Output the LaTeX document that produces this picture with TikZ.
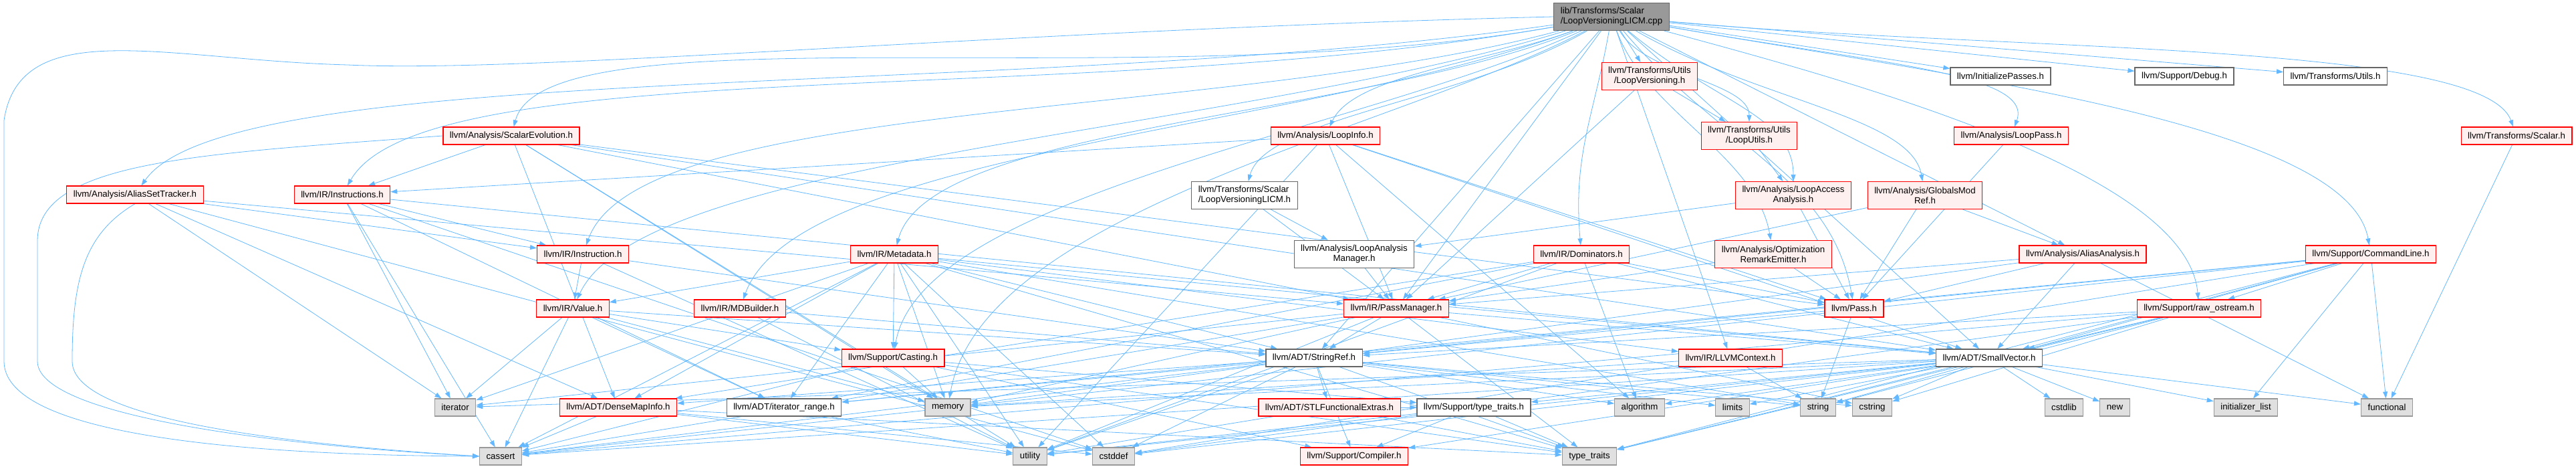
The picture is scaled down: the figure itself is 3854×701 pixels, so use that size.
\documentclass[tikz,border=0pt]{standalone}
\usepackage{fontspec}
\setmainfont{Liberation Sans}
\usetikzlibrary{arrows.meta,backgrounds}
\definecolor{edgeblue}{HTML}{63B8FF}
\definecolor{redfill}{HTML}{FFF0F0}
\definecolor{sysfill}{HTML}{E0E0E0}
\definecolor{sysdraw}{HTML}{999999}
\definecolor{plaindraw}{HTML}{666666}
\definecolor{rootfill}{HTML}{999999}
\begin{document}
\begin{tikzpicture}[x=1pt, y=-1pt,
  hdr/.style={draw, line width=1.2pt, inner xsep=10pt, inner ysep=2pt, minimum height=26pt,
    font=\fontsize{13.3}{15}\selectfont, align=center},
  redhdr/.style={hdr, draw=red, fill=redfill},
  syshdr/.style={hdr, draw=sysdraw, fill=sysfill},
  plainhdr/.style={hdr, draw=plaindraw, fill=white},
  roothdr/.style={hdr, draw=plaindraw, fill=rootfill, align=left},
  twoline/.style={minimum height=41pt},
  incl/.style={draw=edgeblue, line width=0.8pt, -{Triangle[length=10pt,width=7pt]}}]
\useasboundingbox (0,0) rectangle (3854,701);

\node[roothdr, twoline] (root) at (2411,25) {lib/Transforms/Scalar\\/LoopVersioningLICM.cpp};
% row 1
\node[redhdr, twoline] (lver) at (2468,114) {llvm/Transforms/Utils\\/LoopVersioning.h};
\node[plainhdr] (initp) at (2993,114) {llvm/InitializePasses.h};
\node[plainhdr] (dbg) at (3268,114) {llvm/Support/Debug.h};
\node[plainhdr] (tutils) at (3494,114) {llvm/Transforms/Utils.h};
% row 2
\node[redhdr] (scev) at (765,203) {llvm/Analysis/ScalarEvolution.h};
\node[redhdr] (linfo) at (1983,203) {llvm/Analysis/LoopInfo.h};
\node[redhdr, twoline] (lutils) at (2617,203) {llvm/Transforms/Utils\\/LoopUtils.h};
\node[redhdr] (lpass) at (3009,203) {llvm/Analysis/LoopPass.h};
\node[redhdr] (tscalar) at (3765,203) {llvm/Transforms/Scalar.h};
% row 3
\node[redhdr] (ast) at (202,291) {llvm/Analysis/AliasSetTracker.h};
\node[redhdr] (instrs) at (512,291) {llvm/IR/Instructions.h};
\node[plainhdr, twoline, align=left] (licmh) at (1862,292) {llvm/Transforms/Scalar\\/LoopVersioningLICM.h};
\node[redhdr, twoline] (laa) at (2683,292) {llvm/Analysis/LoopAccess\\Analysis.h};
\node[redhdr, twoline] (gmr) at (2880,292) {llvm/Analysis/GlobalsMod\\Ref.h};
% row 4
\node[redhdr] (instr) at (872,380) {llvm/IR/Instruction.h};
\node[redhdr] (meta) at (1338,380) {llvm/IR/Metadata.h};
\node[plainhdr, twoline] (lam) at (2026,380) {llvm/Analysis/LoopAnalysis\\Manager.h};
\node[redhdr] (dom) at (2366,380) {llvm/IR/Dominators.h};
\node[redhdr, twoline] (ore) at (2653,380) {llvm/Analysis/Optimization\\RemarkEmitter.h};
\node[redhdr] (aa) at (3116,380) {llvm/Analysis/AliasAnalysis.h};
\node[redhdr] (cl) at (3547,380) {llvm/Support/CommandLine.h};
% row 5
\node[redhdr] (value) at (857,461) {llvm/IR/Value.h};
\node[redhdr] (mdb) at (1107,461) {llvm/IR/MDBuilder.h};
\node[redhdr] (pm) at (2089,461) {llvm/IR/PassManager.h};
\node[redhdr] (pass) at (2774,461) {llvm/Pass.h};
\node[redhdr] (ros) at (3290,461) {llvm/Support/raw\_ostream.h};
% row 6
\node[redhdr] (cast) at (1336,535) {llvm/Support/Casting.h};
\node[plainhdr] (sref) at (1966,535) {llvm/ADT/StringRef.h};
\node[redhdr] (ctx) at (2589,535) {llvm/IR/LLVMContext.h};
\node[plainhdr] (svec) at (2976,535) {llvm/ADT/SmallVector.h};
% row 7
\node[syshdr] (iter) at (681,609) {iterator};
\node[redhdr] (dmi) at (925,609) {llvm/ADT/DenseMapInfo.h};
\node[plainhdr] (irange) at (1173,609) {llvm/ADT/iterator\_range.h};
\node[syshdr] (mem) at (1418,609) {memory};
\node[redhdr] (stlfe) at (1989,609) {llvm/ADT/STLFunctionalExtras.h};
\node[plainhdr] (stt) at (2205,609) {llvm/Support/type\_traits.h};
\node[syshdr] (algo) at (2453,609) {algorithm};
\node[syshdr] (lim) at (2592,609) {limits};
\node[syshdr] (str) at (2720,609) {string};
\node[syshdr] (cstr) at (2801,609) {cstring};
\node[syshdr] (cstdl) at (3088,609) {cstdlib};
\node[syshdr] (new) at (3164,609) {new};
\node[syshdr] (initl) at (3360,609) {initializer\_list};
\node[syshdr] (func) at (3571,609) {functional};
% row 8
\node[syshdr] (cass) at (749,682) {cassert};
\node[syshdr] (util) at (1541,682) {utility};
\node[syshdr] (cstdd) at (1666,682) {cstddef};
\node[redhdr] (comp) at (2026,682) {llvm/Support/Compiler.h};
\node[syshdr] (tt) at (2378,682) {type\_traits};

\begin{scope}[on background layer]
% includes of the source file
\foreach \t in {lver,pm,ctx,sref,svec,initp,dbg,tutils,aa}
  \draw[incl] (root) -- (\t);
\foreach \t/\o/\i/\a/\b in {scev/190/75/700/200, ast/188/55/900/250, instrs/190/60/800/250,
    instr/195/70/600/250, value/197/65/600/250, mdb/200/70/500/250, meta/202/75/400/200,
    cast/205/80/400/250, mem/208/80/350/300, licmh/210/75/250/120, linfo/200/65/200/100,
    lutils/-60/90/100/80, laa/-40/90/200/120, gmr/-30/100/250/120, lpass/-10/70/400/100,
    ore/-70/100/150/150, dom/-100/95/150/150, pass/-50/100/250/200,
    tscalar/-5/110/600/150, cl/-10/100/500/200, ros/-15/95/400/200}
  \draw[incl] (root) .. controls +(\o:\a pt) and +(\i:\b pt) .. (\t);
\draw[incl] (root.west) .. controls (1500,45) and (800,110) .. (520,97)
  .. controls (250,90) and (30,20) .. (6,180) -- (6,540) .. controls (6,640) and (300,680) .. (cass.west);
% headers
\foreach \t in {pm,lutils} \draw[incl] (lver) -- (\t);
\draw[incl] (lutils) -- (laa);
\foreach \t in {lam,pass} \draw[incl] (laa) -- (\t);
\foreach \t in {aa,pm,pass} \draw[incl] (gmr) -- (\t);
\draw[incl] (lpass) -- (pass);
\draw[incl] (tscalar) -- (func);
\foreach \t in {instrs,pm,pass,svec,dmi,mem,util} \draw[incl] (scev) -- (\t);
\draw[incl] (scev.west) .. controls (300,230) and (56,240) .. (56,360) -- (56,540)
  .. controls (56,620) and (400,665) .. (cass.west);
\foreach \t in {dmi,instr,pm,cstdd,iter} \draw[incl] (ast) -- (\t);
\draw[incl] (ast.south) .. controls (125,350) and (108,420) .. (108,540)
  .. controls (108,630) and (450,665) .. (cass.west);
\foreach \t in {svec,irange,instr,cass,cstdd,iter} \draw[incl] (instrs) -- (\t);
\foreach \t in {lam,pm} \draw[incl] (licmh) -- (\t);
\draw[incl] (lam) -- (pm);
\foreach \t in {instrs,pm,pass,svec,algo,util} \draw[incl] (linfo) -- (\t);
\foreach \t in {value,sref,util} \draw[incl] (instr) -- (\t);
\foreach \t in {dmi,svec,sref,irange,ctx,value,cast,cass,cstdd,iter,mem,str,tt,util} \draw[incl] (meta) -- (\t);
\foreach \t in {sref,util} \draw[incl] (mdb) -- (\t);
\foreach \t in {dmi,svec,irange,pm,pass,algo,util} \draw[incl] (dom) -- (\t);
\foreach \t in {pm,pass} \draw[incl] (ore) -- (\t);
\foreach \t in {svec,pm,pass,func,mem} \draw[incl] (aa) -- (\t);
\foreach \t in {ros,svec,sref,irange,cass,cstdd,func,initl,str,tt} \draw[incl] (cl) -- (\t);
\foreach \t in {sref,irange,cast,cass,iter,mem} \draw[incl] (value) -- (\t);
\foreach \t in {svec,sref,cass,cstr,iter,mem,tt,util} \draw[incl] (pm) -- (\t);
\foreach \t in {sref,str} \draw[incl] (pass) -- (\t);
\foreach \t in {svec,sref,cass,cstdd,cstr,str,tt} \draw[incl] (ros) -- (\t);
\foreach \t in {comp,stt,cass,mem,tt} \draw[incl] (cast) -- (\t);
\foreach \t in {dmi,stlfe,irange,comp,algo,cass,cstdd,cstr,lim,str,tt,util} \draw[incl] (sref) -- (\t);
\foreach \t in {mem,str} \draw[incl] (ctx) -- (\t);
\foreach \t in {comp,stt,algo,cass,cstdd,cstdl,cstr,func,initl,iter,lim,mem,new,tt,util} \draw[incl] (svec) -- (\t);
\foreach \t in {cass,cstdd,tt,util} \draw[incl] (dmi) -- (\t);
\draw[incl] (irange) -- (util);
\foreach \t in {stt,tt,util} \draw[incl] (stlfe) -- (\t);
\foreach \t in {comp,tt,util} \draw[incl] (stt) -- (\t);
\end{scope}
\end{tikzpicture}
\end{document}
